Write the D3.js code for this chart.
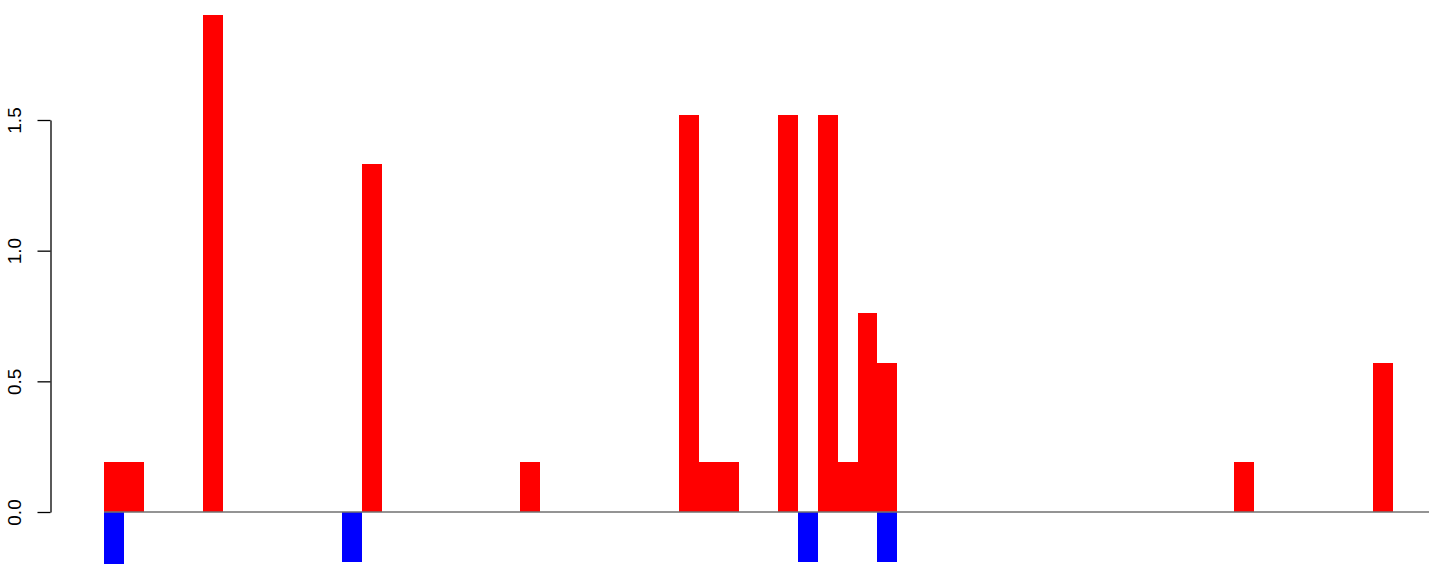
<!DOCTYPE html>
<html><head><meta charset="utf-8">
<script src="https://cdn.jsdelivr.net/npm/d3@7"></script>
<style>body{margin:0;background:#fff}svg{display:block}</style>
</head><body>
<svg id="c" width="1429" height="565"></svg>
<script>
const nBars = 67;
const redIdx =  [0, 1, 5, 13, 21, 29, 30, 31, 34, 36, 37, 38, 39, 57, 64];
const redVals = [0.19, 0.19, 1.9, 1.33, 0.19, 1.52, 0.19, 0.19, 1.52, 1.52, 0.19, 0.76, 0.57, 0.19, 0.57];
const blueIdx = [0, 12, 35, 39];
const blueVals = [-0.2, -0.19, -0.19, -0.19];
const yTicks = [0, 0.5, 1, 1.5];

const svg = d3.select("#c");
const step = 19.83, x0 = 104;
const x = d3.scaleBand().domain(d3.range(nBars)).range([x0, x0 + nBars * step]).padding(0);
const y = d3.scaleLinear().domain([0, 1.5]).range([512, 120]);

svg.append("g").selectAll("rect.r").data(redIdx.map((i, k) => ({i, v: redVals[k]}))).join("rect")
  .attr("x", d => x(d.i)).attr("width", x.bandwidth())
  .attr("y", d => y(d.v)).attr("height", d => y(0) - y(d.v))
  .attr("fill", "#ff0000").attr("shape-rendering", "crispEdges");
svg.append("g").selectAll("rect.b").data(blueIdx.map((i, k) => ({i, v: blueVals[k]}))).join("rect")
  .attr("x", d => x(d.i)).attr("width", x.bandwidth())
  .attr("y", y(0)).attr("height", d => y(d.v) - y(0))
  .attr("fill", "#0000ff").attr("shape-rendering", "crispEdges");

svg.append("line").attr("x1", x0).attr("x2", 1429).attr("y1", y(0)).attr("y2", y(0))
  .attr("stroke", "#707070").attr("stroke-width", 1.3);

const ax = svg.append("g").attr("transform", "translate(50.5,0)")
  .call(d3.axisLeft(y).tickValues(yTicks).tickFormat(d3.format(".1f")).tickSize(13).tickSizeOuter(0));
ax.select(".domain").attr("stroke", "#000").attr("stroke-width", 1.3);
ax.selectAll(".tick line").attr("stroke", "#000").attr("stroke-width", 1.3);
ax.selectAll(".tick text")
  .style("font-family", "'Liberation Sans', Arial, sans-serif").style("font-size", "19px").attr("fill", "#000")
  .attr("transform", "rotate(-90)").attr("text-anchor", "middle")
  .attr("x", 0).attr("y", -30).attr("dy", "0");
</script>
</body></html>
